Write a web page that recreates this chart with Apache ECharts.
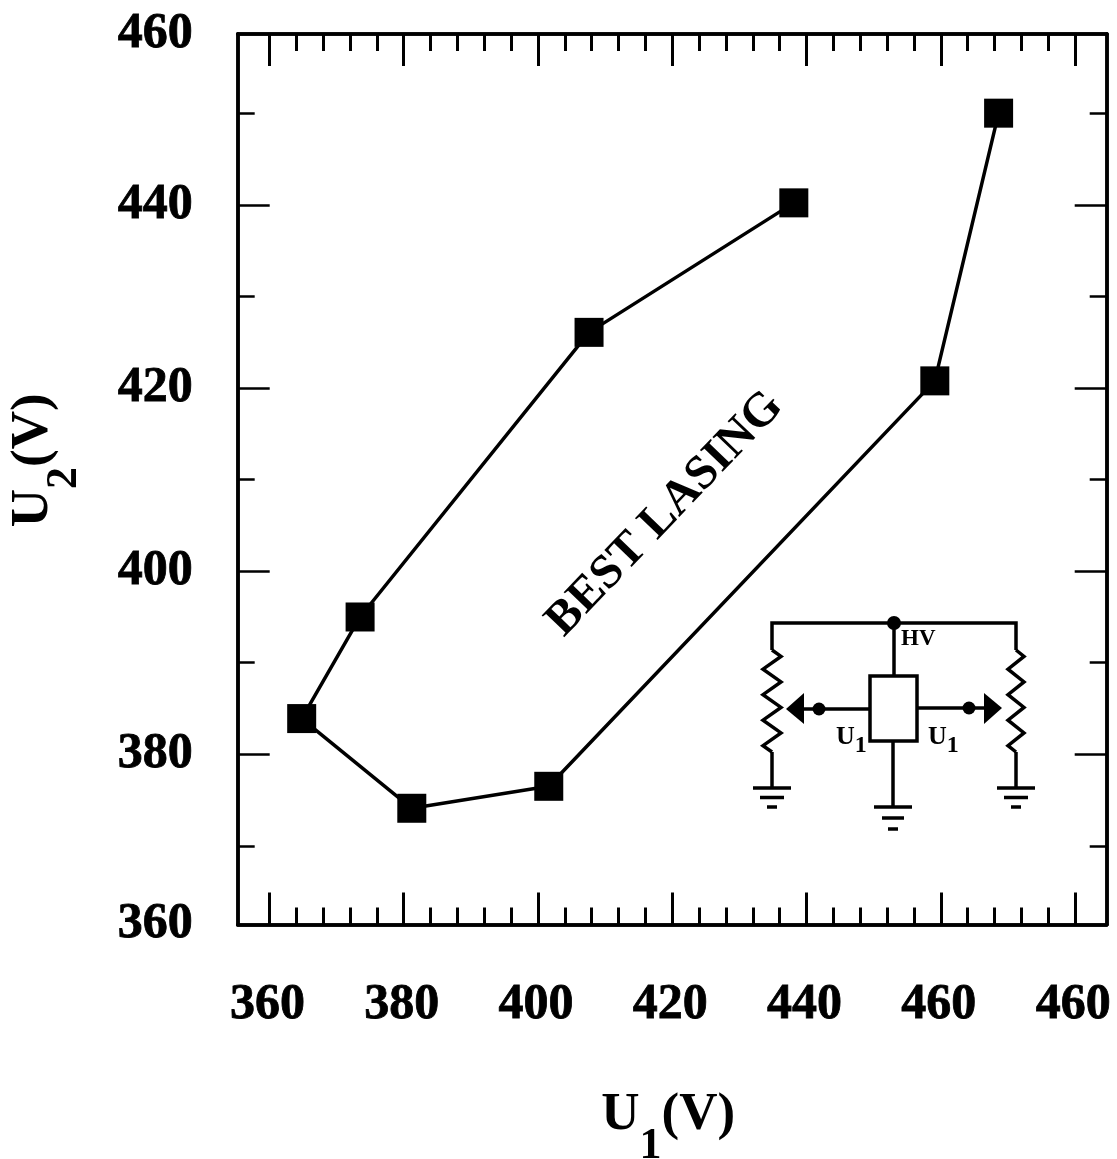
<!DOCTYPE html>
<html><head><meta charset="utf-8">
<style>html,body{margin:0;padding:0;background:#fff}#c{width:1117px;height:1159px}</style>
<script src="https://cdn.jsdelivr.net/npm/echarts@6/dist/echarts.min.js"></script>
</head><body><div id="c"></div>
<script>
const u1Values = [438.1, 407.6, 373.5, 364.8, 381.2, 401.6, 459.1, 468.6];
const u2Values = [440.25, 426.1, 395.0, 383.9, 374.1, 376.5, 420.8, 450.05];
const xMajorTicks = [360, 380, 400, 420, 440, 460, 480];
const xMinorTicks = [364,368,372,376,384,388,392,396,404,408,412,416,424,428,432,436,444,448,452,456,464,468,472,476];
const xTickLabels = ['360','380','400','420','440','460','460'];
const yMajorTicks = [380, 400, 420, 440];
const yMinorTicks = [370, 390, 410, 430, 450];
const yLabelValues = [361.4, 380, 400, 420, 440, 458.7];
const yTickLabels = ['360','380','400','420','440','460'];
const xRange = [355.27, 484.7];
const yRange = [361.4, 458.7];

const FONT = '"Liberation Serif"';
const INK = '#000';
const chart = echarts.init(document.getElementById('c'), null, {renderer:'canvas'});

function baseAxis(extra){
  return Object.assign({type:'value', splitLine:{show:false},
    axisLine:{show:true,onZero:false,lineStyle:{color:INK,width:3.5}},
    axisLabel:{show:false}}, extra);
}
function tick(vals,len,w){ return {show:true,inside:true,length:len,customValues:vals,lineStyle:{color:INK,width:w}}; }

const titleRich = () => ({
  m:{fontFamily:FONT,fontSize:53,color:INK,fontWeight:'bold',lineHeight:80,verticalAlign:'top'},
  s:{fontFamily:FONT,fontSize:44,color:INK,fontWeight:'bold',lineHeight:44,padding:[36,0,0,0],verticalAlign:'top'}
});

const xAxes = [
  baseAxis({min:xRange[0],max:xRange[1],position:'bottom',axisTick:tick(xMajorTicks,32,3),
    axisLabel:{show:true,customValues:xMajorTicks,margin:56,fontFamily:FONT,fontWeight:'bold',fontSize:50,color:INK,
      padding:[0,4,0,0],textBorderColor:INK,textBorderWidth:0.8,
      formatter:(v)=>xTickLabels[xMajorTicks.indexOf(v)]},
    name:'{m|U}{s|1}{m|(V)}',nameLocation:'middle',nameGap:164,
    nameTextStyle:{rich:titleRich(),padding:[0,8,0,0]}}),
  baseAxis({min:xRange[0],max:xRange[1],position:'bottom',axisTick:tick(xMinorTicks,17,3)}),
  baseAxis({min:xRange[0],max:xRange[1],position:'top',axisTick:tick(xMajorTicks,32,3)}),
  baseAxis({min:xRange[0],max:xRange[1],position:'top',axisTick:tick(xMinorTicks,17,3)})
];
const yAxes = [
  baseAxis({min:yRange[0],max:yRange[1],position:'left',axisTick:tick(yMajorTicks,32,2.5),
    axisLabel:{show:true,customValues:yLabelValues,margin:45,fontFamily:FONT,fontWeight:'bold',fontSize:50,color:INK,
      padding:[0,0,6,0],textBorderColor:INK,textBorderWidth:0.8,
      formatter:(v)=>yTickLabels[yLabelValues.indexOf(v)]},
    name:'{m|U}{s|2}{m|(V)}',nameLocation:'middle',nameGap:151,nameRotate:90,
    nameTextStyle:{rich:titleRich(),padding:[0,0,0,38]}}),
  baseAxis({min:yRange[0],max:yRange[1],position:'left',axisTick:tick(yMinorTicks,17,2.5)}),
  baseAxis({min:yRange[0],max:yRange[1],position:'right',axisTick:tick(yMajorTicks,32,2.5)}),
  baseAxis({min:yRange[0],max:yRange[1],position:'right',axisTick:tick(yMinorTicks,17,2.5)})
];

// Inset schematic
const W = 3.5;
const stroke = {stroke:INK,lineWidth:W,fill:null};
const poly = pts => ({type:'polyline',shape:{points:pts},style:Object.assign({},stroke),z:10});
const dot = (x,y,r) => ({type:'circle',shape:{cx:x,cy:y,r:r},style:{fill:INK},z:10});
const tri = pts => ({type:'polygon',shape:{points:pts},style:{fill:INK},z:10});
function ground(x,y0,y1,a,b,c,gap){
  return [poly([[x,y0],[x,y1]]),poly([[x-a,y1],[x+a,y1]]),poly([[x-b,y1+gap],[x+b,y1+gap]]),poly([[x-c,y1+2*gap],[x+c,y1+2*gap]])];
}
function resistor(x,dx,y0,y1){
  const pts=[[x,y0]];const n=8;const step=(y1-y0)/n;
  for(let i=0;i<n;i++){pts.push([x+(i%2?-dx:dx),y0+step*(i+0.5)]);}
  pts.push([x,y1]);return poly(pts);
}
const labelText=(x,y,t)=>({type:'text',x:x,y:y,z:10,style:{text:t,rich:{
  a:{fontFamily:FONT,fontWeight:'bold',fontSize:26,fill:INK,lineHeight:30,verticalAlign:'top'},
  b:{fontFamily:FONT,fontWeight:'bold',fontSize:24,fill:INK,lineHeight:30,padding:[10,0,0,0],verticalAlign:'top'}}}});
const graphics = [
  {type:'text',x:665,y:514,rotation:46.2*Math.PI/180,z:10,style:{text:'BEST LASING',font:'bold 48px '+FONT,fill:INK,align:'center',verticalAlign:'middle'}},
  poly([[772,650],[772,623],[1016,623],[1016,650]]),
  dot(894,623,7),
  poly([[894,623],[894,676]]),
  {type:'rect',shape:{x:870,y:676,width:47,height:65},style:{stroke:INK,lineWidth:W,fill:'#fff'},z:10},
  resistor(772,9,650,752),
  resistor(1016,8,650,752),
  ...ground(772,752,788,19,12,5,9.5),
  ...ground(1016,752,788,19,12,5,9.5),
  ...ground(893,741,807,19,11,5,11),
  poly([[804,709],[870,709]]),dot(819,709,6.5),tri([[786,709],[804,693],[804,724]]),
  poly([[917,708],[984,708]]),dot(969,708,6.5),tri([[1002,708],[984,693],[984,724]]),
  {type:'text',x:901,y:628,z:10,style:{text:'HV',font:'bold 23px '+FONT,fill:INK}},
  labelText(836,724,'{a|U}{b|1}'),
  labelText(928,724,'{a|U}{b|1}')
];

chart.setOption({
  animation:false,
  backgroundColor:'#fff',
  grid:{left:237.7,right:10.3,top:34,bottom:1159-924.5,containLabel:false,outerBoundsMode:'none'},
  xAxis:xAxes,
  yAxis:yAxes,
  series:[{type:'line',xAxisIndex:0,yAxisIndex:0,
    data:u1Values.map((x,i)=>[x,u2Values[i]]),
    symbol:'rect',symbolSize:29,showSymbol:true,clip:false,
    lineStyle:{color:INK,width:3.5},itemStyle:{color:INK}}],
  graphic:graphics
});
</script></body></html>
